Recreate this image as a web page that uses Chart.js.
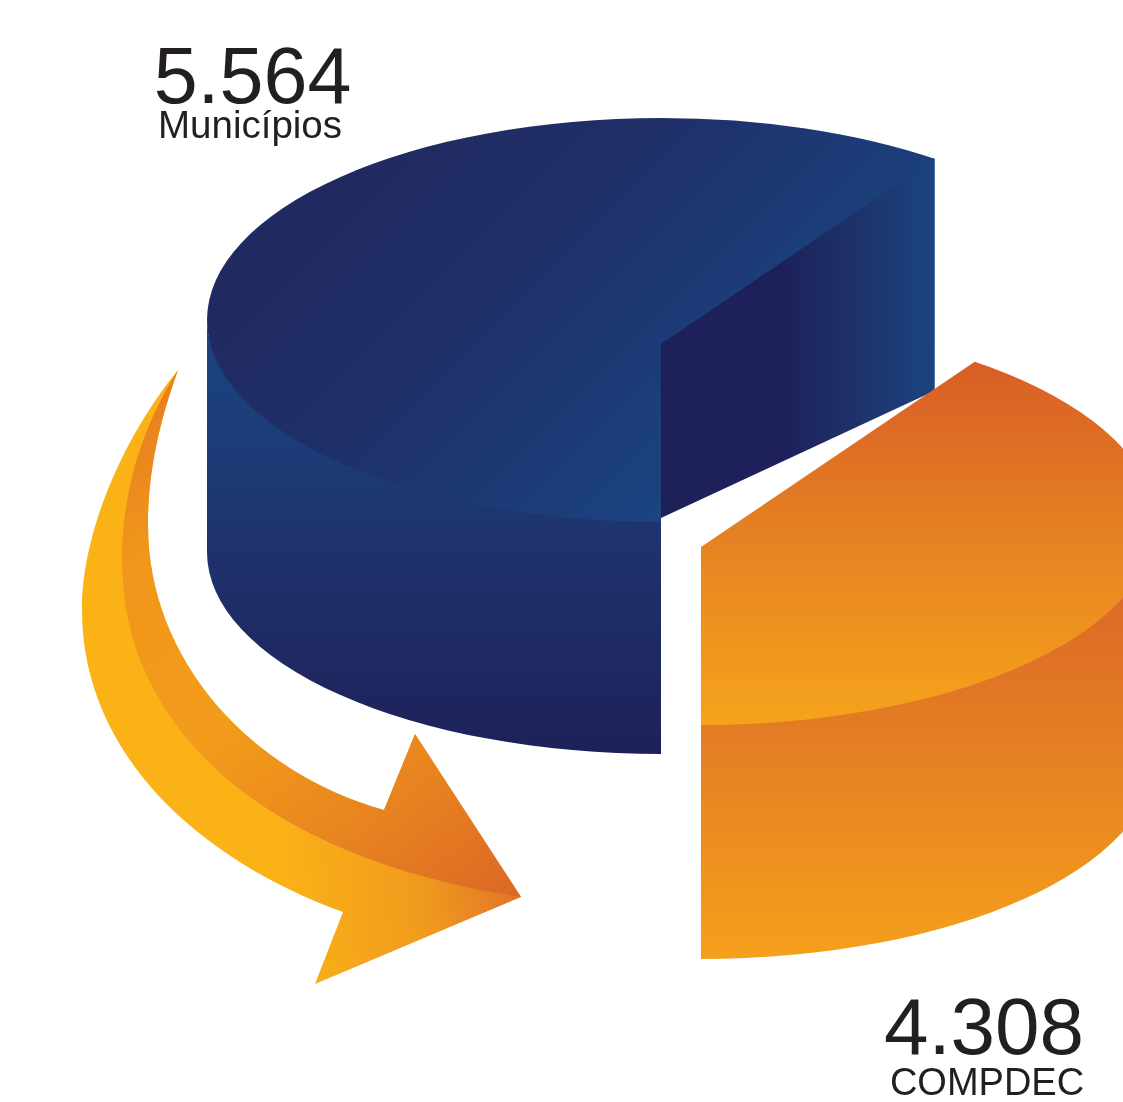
<!DOCTYPE html>
<html lang="pt-BR">
<head>
<meta charset="utf-8">
<title>Municípios e COMPDEC</title>
<script src="https://cdn.jsdelivr.net/npm/chart.js@4/dist/chart.umd.min.js"></script>
<style>
  html, body { margin: 0; background: #fff; overflow: hidden; }
  #wrap { position: relative; width: 1123px; height: 1102px; overflow: hidden; }
  canvas { display: block; }
  .lbl { position: absolute; transform: translateX(-50%); white-space: nowrap; line-height: 1;
         font-family: "Liberation Sans", Arial, sans-serif; color: #231f20; }
</style>
</head>
<body>
<div id="wrap"><canvas id="pie" width="1123" height="1102"></canvas></div>
<script>
const categories = ['Municípios', 'COMPDEC'];
const counts = [5564, 4308];
// share of the circle each slice takes in the picture (not proportional to counts)
const sliceShares = [60.3, 39.7];

const el = (id) => document.getElementById(id);

// label placement: centre x of number and caption, top of number and caption
const labelPos = [
  { x: 252.5, capX: 250, num: 36, numSize: 79, cap: 106, capSize: 38.5 },
  { x: 984, capX: 987, num: 987, numSize: 80, cap: 1063, capSize: 38 },
];
labelPos.forEach((p, i) => {
  const num = document.createElement('div');
  num.className = 'lbl';
  num.style.cssText = `left:${p.x}px;top:${p.num}px;font-size:${p.numSize}px`;
  num.textContent = counts[i].toLocaleString('pt-BR');
  const cap = document.createElement('div');
  cap.className = 'lbl';
  cap.style.cssText = `left:${p.capX}px;top:${p.cap}px;font-size:${p.capSize}px`;
  cap.textContent = categories[i];
  el('wrap').append(num, cap);
});

const TILT = 202 / 454, APEX_DROP = 24;
const sliceShift = [{ dx: 0, dy: -231, wall: 232 }, { dx: 40, dy: -28, wall: 234 }];

const linear = (ctx, x0, y0, x1, y1, stops) => {
  const g = ctx.createLinearGradient(x0, y0, x1, y1);
  stops.forEach(([t, c]) => g.addColorStop(t, c));
  return g;
};

// the parts of an arc facing the viewer, in canvas angles
const frontRanges = (s, e) => {
  const out = [];
  [0, 2 * Math.PI].forEach(base => {
    const a = Math.max(s, base), b = Math.min(e, base + Math.PI);
    if (b > a) out.push([a, b]);
  });
  return out;
};

const drawSlice = (ctx, arc, i) => {
  const rx = arc.outerRadius, ry = rx * TILT;
  const { dx, dy, wall } = sliceShift[i];
  const cx = arc.x + dx, cy = arc.y + dy;
  const s = arc.startAngle, e = arc.endAngle;
  const rim = (a) => [cx + rx * Math.cos(a), cy + ry * Math.sin(a)];
  const apex = [cx, cy + APEX_DROP];

  const wallFill = i === 0
    ? linear(ctx, 0, cy, 0, cy + ry + wall, [[0, '#1a4480'], [0.3, '#1d3c77'], [0.6, '#1f2f69'], [1, '#1d2159']])
    : linear(ctx, 0, cy + ry * 0.3, 0, cy + ry + wall, [[0, '#dc6827'], [0.4, '#e47d24'], [1, '#f5a01b']]);
  frontRanges(s, e).forEach(([a, b]) => {
    ctx.beginPath();
    // starts a little under the top face so no seam shows
    ctx.ellipse(cx, cy - 2, rx, ry, 0, a, b);
    ctx.ellipse(cx, cy + wall, rx, ry, 0, b, a, true);
    ctx.closePath();
    ctx.fillStyle = wallFill;
    ctx.fill();
  });

  // the cut face only shows on the slice that opens towards us
  if (i === 0) {
    const [ex, ey] = rim(e), [sx, sy] = rim(s);
    ctx.beginPath();
    ctx.moveTo(apex[0], apex[1] - 2);
    ctx.lineTo(ex - 2, ey);
    ctx.lineTo(ex, ey);
    ctx.lineTo(ex, ey + wall);
    ctx.lineTo(sx, sy - 4);
    ctx.closePath();
    ctx.fillStyle = linear(ctx, cx, 0, ex, 0, [[0, '#1d2059'], [0.43, '#1d2059'], [0.7, '#1f3169'], [1, '#1a4480']]);
    ctx.fill();
  }

  ctx.beginPath();
  ctx.moveTo(...apex);
  ctx.ellipse(cx, cy, rx, ry, 0, s, e);
  ctx.closePath();
  ctx.fillStyle = i === 0
    ? linear(ctx, cx - 454, cy + 2, cx - 127, cy + 329, [[0, '#212a60'], [0.4, '#1f306a'], [1, '#1a4480']])
    : linear(ctx, 0, cy - 160, 0, cy + ry, [[0, '#d85e26'], [0.5, '#e68322'], [1, '#f6a31b']]);
  ctx.fill();
};

// arrow outline, decoration only
const drawArrow = (ctx) => {
  const inner = () => {
    ctx.lineTo(384, 810);
    ctx.bezierCurveTo(250, 772, 148, 660, 148, 525);
    ctx.bezierCurveTo(148, 470, 160, 420, 178, 370);
    ctx.closePath();
  };

  ctx.beginPath();
  ctx.moveTo(178, 370);
  ctx.bezierCurveTo(125, 435, 82, 530, 82, 610);
  ctx.bezierCurveTo(82, 755, 200, 860, 343, 912);
  ctx.lineTo(315, 984);
  ctx.lineTo(521, 897);
  ctx.lineTo(415, 734);
  inner();
  ctx.fillStyle = linear(ctx, 280, 900, 521, 880, [[0, '#fbb216'], [0.6, '#ef9a1e'], [1, '#e2722a']]);
  ctx.fill();

  ctx.beginPath();
  ctx.moveTo(178, 370);
  ctx.bezierCurveTo(140, 430, 122, 495, 122, 560);
  ctx.bezierCurveTo(122, 730, 265, 858, 521, 897);
  ctx.lineTo(415, 734);
  inner();
  ctx.fillStyle = linear(ctx, 130, 400, 520, 890, [[0, '#e57d20'], [0.2, '#f0961c'], [0.5, '#f39c1a'], [0.75, '#e8851f'], [1, '#dd6825']]);
  ctx.fill();
};

const pie3d = {
  id: 'pie3d',
  beforeDatasetsDraw(chart) {
    const ctx = chart.ctx;
    chart.getDatasetMeta(0).data.forEach((arc, i) => drawSlice(ctx, arc, i));
    drawArrow(ctx);
    return false;
  }
};

new Chart(el('pie'), {
  type: 'pie',
  data: {
    labels: categories,
    datasets: [{ data: sliceShares, backgroundColor: ['#1f3069', '#e6832a'], borderWidth: 0 }]
  },
  options: {
    responsive: false,
    devicePixelRatio: 1,
    animation: false,
    rotation: 180,
    layout: { padding: { left: 207, right: 8, top: 97, bottom: 97 } },
    plugins: { legend: { display: false }, tooltip: { enabled: false } }
  },
  plugins: [pie3d]
});
</script>
</body>
</html>
